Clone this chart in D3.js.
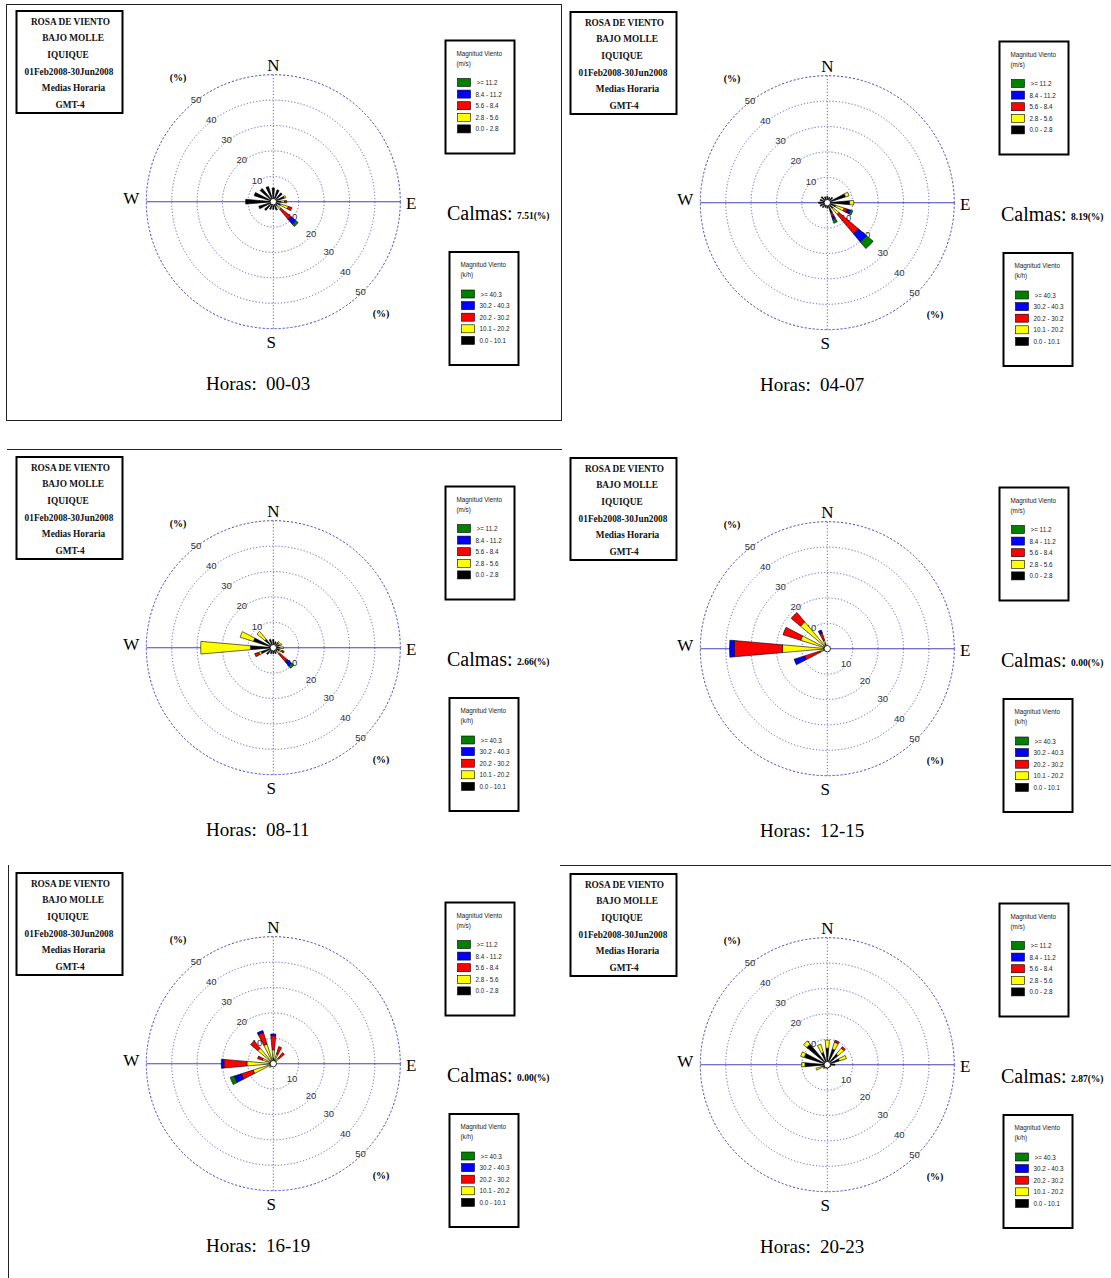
<!DOCTYPE html>
<html>
<head>
<meta charset="utf-8">
<script src="https://cdn.jsdelivr.net/npm/d3@7/dist/d3.min.js"></script>
<style>
  html, body { margin: 0; padding: 0; background: #fff; }
  svg { display: block; }
</style>
</head>
<body>
<script>
// Sixteen compass sectors, clockwise from north
const directions = ["N","NNE","NE","ENE","E","ESE","SE","SSE","S","SSW","SW","WSW","W","WNW","NW","NNW"];
// Speed classes, innermost first (percent of hours per class)
const classColors = ["#000000","#ffff00","#ff0000","#0000ff","#008000"];
const legendMs = [">= 11.2","8.4 - 11.2","5.6 - 8.4","2.8 - 5.6","0.0 - 2.8"];
const legendKh = [">= 40.3","30.2 - 40.3","20.2 - 30.2","10.1 - 20.2","0.0 - 10.1"];
const legendColors = ["#008000","#0000ff","#ff0000","#ffff00","#000000"];
const ringTicks = [10, 20, 30, 40, 50];
const titleLines = ["ROSA DE VIENTO","BAJO MOLLE","IQUIQUE","01Feb2008-30Jun2008","Medias Horaria","GMT-4"];
const hourLabels = ["00-03","04-07","08-11","12-15","16-19","20-23"];
const calms = ["7.51","8.19","2.66","0.00","0.00","2.87"];

// Frequency (%) per sector: [0.0-2.8, 2.8-5.6, 5.6-8.4, 8.4-11.2, >=11.2] m/s
const rose0003 = [
  [5.4,0,0,0,0],[4.9,0,0,0,0],[4.6,0,0,0,0],[4.5,0.7,0,0,0],
  [3.0,1.5,0.8,0,0],[3.0,3.2,1.5,0,0],[2.0,2.0,5.1,2.5,1.2],[3.5,0,0,0,0],
  [3.0,0,0,0,0],[3.2,0,0,0,0],[4.5,0,0,0,0],[6.0,0,0,0,0],
  [10.9,0,0,0,0],[7.9,0,0,0,0],[6.8,0,0,0,0],[6.3,0,0,0,0]
];
const rose0407 = [
  [2.5,0,0,0,0],[2.2,0,0,0,0],[2.8,0,0,0,0],[7.5,1.5,0,0,0],
  [8.8,1.6,0,0,0],[3.5,3.5,1.3,1.2,1.0],[3.0,3.0,10.0,4.2,3.4],[4.2,0,1.4,1.3,1.6],
  [2.2,0,0,0,0],[2.0,0,0,0,0],[2.6,0,0,0,0],[3.0,0,0,0,0],
  [3.4,0,0,0,0],[3.0,0,0,0,0],[3.2,0,0,0,0],[2.5,0,0,0,0]
];
const rose0811 = [
  [3.2,0,0,0,0],[2.5,0,0,0,0],[2.6,0.6,0,0,0],[2.5,1.0,0,0,0],
  [2.5,1.5,0,0,0],[2.5,1.0,1.0,0,0],[2.0,1.2,4.0,2.2,1.2],[2.5,0,0,0,0],
  [2.4,0,0,0,0],[2.5,0,0,0,0],[3.5,0,0,0,0],[5.0,1.0,1.7,0,0],
  [9.0,19.6,0,0,0],[8.2,5.5,0,0,0],[4.4,4.0,0,0,0],[3.5,0,0,0,0]
];
const rose1215 = [
  [1.0,0,0,0,0],[0,0,0,0,0],[0,0,0,0,0],[0,0,0,0,0],
  [0,0,0,0,0],[0,0,0,0,0],[0,0,0,0,0],[0,0,0,0,0],
  [0,0,0,0,0],[0,0,0,0,0],[0,0,0,0,0],[1.5,1.5,6.4,4.3,0],
  [1.5,16.2,19.0,1.8,0],[1.5,9.5,7.3,0,0],[1.5,12.3,4.8,0,0],[2.0,1.5,3.0,1.2,0]
];
const rose1619 = [
  [2.2,3.3,5.5,0.7,0],[1.5,2.5,3.1,0,0],[1.5,1.5,2.7,0,0],[0.8,0,0,0,0],
  [0,0,0,0,0],[0,0,0,0,0],[0,0,0,0,0],[0,0,0,0,0],
  [0,0,0,0,0],[0,0,0,0,0],[1.0,1.0,0,0,0],[1.5,6.8,4.9,2.9,1.7],
  [1.5,8.9,9.1,1.0,0],[1.0,3.5,2.0,0,0],[1.0,7.0,3.7,0,0],[1.0,7.1,4.8,0.8,0]
];
const rose2023 = [
  [6.5,3.2,0,0,0],[6.5,2.8,0.8,0,0],[5.5,3.0,0.8,0,0],[5.0,2.9,0,0,0],
  [3.0,0,0,0,0],[1.5,0,0,0,0],[1.2,0,0,0,0],[1.2,0,0,0,0],
  [1.5,0,0,0,0],[1.5,0,0,0,0],[2.0,0,0,0,0],[2.0,2.7,0,0,0],
  [8.8,1.3,0,0,0],[9.5,1.5,0,0,0],[10.5,1.7,0,0,0],[5.0,3.5,0,0,0]
];
const roses = [rose0003, rose0407, rose0811, rose1215, rose1619, rose2023];

const svg = d3.select("body").append("svg").attr("width", 1111).attr("height", 1278);
svg.append("rect").attr("width", 1111).attr("height", 1278).attr("fill", "#fff");

// Frame lines around the panels
const frame = svg.append("g").attr("fill", "none").attr("stroke", "#222").attr("stroke-width", 1);
frame.append("rect").attr("x", 6.5).attr("y", 4.5).attr("width", 555).attr("height", 416);
frame.append("line").attr("x1", 7).attr("x2", 562).attr("y1", 449.5).attr("y2", 449.5);
frame.append("line").attr("x1", 560).attr("x2", 1111).attr("y1", 865.5).attr("y2", 865.5);
frame.append("line").attr("x1", 8.5).attr("x2", 8.5).attr("y1", 865).attr("y2", 1278);

const r = d3.scaleLinear().domain([0, 50]).range([0, 127]);
const angle = d3.scaleLinear().domain([0, directions.length]).range([0, 2 * Math.PI]);
const halfWidth = 5 * Math.PI / 180;
const arc = d3.arc();
const serif = "'Liberation Serif','Times New Roman',serif";
const sans = "'Liberation Sans',Arial,sans-serif";

function legend(g, x, y, unit, labels) {
  const lg = g.append("g").attr("transform", `translate(${x},${y})`);
  lg.append("rect").attr("x", 0).attr("y", 0).attr("width", 69).attr("height", 113)
    .attr("fill", "#fff").attr("stroke", "#000").attr("stroke-width", 2);
  lg.append("text").attr("x", 11).attr("y", 15).text("Magnitud Viento")
    .attr("font-family", sans).attr("font-size", 6.3).attr("fill", "#222");
  lg.append("text").attr("x", 11).attr("y", 25).text(unit)
    .attr("font-family", sans).attr("font-size", 6.3).attr("fill", "#222");
  labels.forEach((t, k) => {
    const yy = 38 + k * 11.6;
    lg.append("rect").attr("x", 12).attr("y", yy).attr("width", 13).attr("height", 8)
      .attr("fill", legendColors[k]).attr("stroke", "#000").attr("stroke-width", 0.6);
    lg.append("text").attr("x", k === 0 ? 31 : 30).attr("y", yy + 6.5).text(t)
      .attr("font-family", sans).attr("font-size", 6.3).attr("fill", "#222");
  });
}

function drawPanel(i) {
  const ox = (i % 2) * 554;
  const oy = [0, 446, 862][Math.floor(i / 2)] + (i % 2);
  const g = svg.append("g").attr("transform", `translate(${ox},${oy})`);
  const cx = 273.3, cy = 201.7;
  const rose = g.append("g").attr("transform", `translate(${cx},${cy})`);

  // rings
  ringTicks.forEach(v => {
    const outer = v === 50;
    rose.append("circle").attr("r", r(v)).attr("fill", "none")
      .attr("stroke", outer ? "#4646b6" : "#6262c8")
      .attr("stroke-width", 1)
      .attr("stroke-dasharray", outer ? "2.2,1.8" : "1.2,2");
  });
  // axes
  rose.append("line").attr("x1", 0).attr("x2", 0).attr("y1", -r(50)).attr("y2", r(50))
    .attr("stroke", "#6262c8").attr("stroke-dasharray", "1.2,2");
  rose.append("line").attr("x1", -r(50)).attr("x2", r(50)).attr("y1", 0).attr("y2", 0)
    .attr("stroke", "#4646b4").attr("stroke-width", 1.1);

  // ring labels along the NW and SE diagonals
  ringTicks.forEach(v => {
    [[323, 1.5], [126 + v * 0.2, -1.5]].forEach(([deg, dr]) => {
      const a = deg * Math.PI / 180;
      const rr = r(v) + dr;
      rose.append("text").attr("x", rr * Math.sin(a)).attr("y", -rr * Math.cos(a) + 3.5)
        .attr("text-anchor", "middle").text(v)
        .attr("font-family", sans).attr("font-size", 9.5).attr("fill", "#333");
    });
  });

  // petals: stacked wedges per sector
  roses[i].forEach((vals, d) => {
    const a = angle(d);
    let acc = 0;
    vals.forEach((v, k) => {
      if (v <= 0) return;
      const p = arc({ innerRadius: r(acc), outerRadius: r(acc + v),
        startAngle: a - halfWidth, endAngle: a + halfWidth });
      rose.append("path").attr("d", p).attr("fill", classColors[k])
        .attr("stroke", "#000").attr("stroke-width", 0.6);
      acc += v;
    });
  });
  rose.append("circle").attr("r", 3.2).attr("fill", "#fff").attr("stroke", "#000").attr("stroke-width", 0.8);

  // compass letters
  const letters = [["N", 0, -131], ["S", -2, 146], ["W", -142, 2.5], ["E", 138, 7.5]];
  letters.forEach(([t, x, y]) => {
    rose.append("text").attr("x", x).attr("y", y).attr("text-anchor", "middle").text(t)
      .attr("font-family", serif).attr("font-size", 17).attr("fill", "#000");
  });
  g.append("text").attr("x", 178).attr("y", 80.5).attr("text-anchor", "middle").text("(%)")
    .attr("font-family", serif).attr("font-weight", "bold").attr("font-size", 10);
  g.append("text").attr("x", 381).attr("y", 316.5).attr("text-anchor", "middle").text("(%)")
    .attr("font-family", serif).attr("font-weight", "bold").attr("font-size", 10);

  // title box
  g.append("rect").attr("x", 16.5).attr("y", 11).attr("width", 106).attr("height", 102)
    .attr("fill", "#fff").attr("stroke", "#000").attr("stroke-width", 2);
  const tx = [70.5, 73, 68, 69, 73.5, 70];
  titleLines.forEach((t, k) => {
    g.append("text").attr("x", tx[k]).attr("y", 24.5 + k * 16.7).attr("text-anchor", "middle").text(t)
      .attr("font-family", serif).attr("font-weight", "bold").attr("font-size", 9.3).attr("fill", "#111");
  });

  // legends
  legend(g, 445.5, 40.5, "(m/s)", legendMs);
  legend(g, 449.5, 252, "(k/h)", legendKh);

  // calms
  g.append("text").attr("x", 447).attr("y", 220).text("Calmas:")
    .attr("font-family", serif).attr("font-size", 20).attr("fill", "#000");
  g.append("text").attr("x", 517).attr("y", 219).text(calms[i] + "(%)")
    .attr("font-family", serif).attr("font-weight", "bold").attr("font-size", 9.5).attr("fill", "#000");

  // hour window
  g.append("text").attr("x", 206).attr("y", 390).text("Horas:")
    .attr("font-family", serif).attr("font-size", 19).attr("fill", "#000");
  g.append("text").attr("x", 266).attr("y", 390).text(hourLabels[i])
    .attr("font-family", serif).attr("font-size", 19).attr("fill", "#000");
}

roses.forEach((_, i) => drawPanel(i));
</script>
</body>
</html>
